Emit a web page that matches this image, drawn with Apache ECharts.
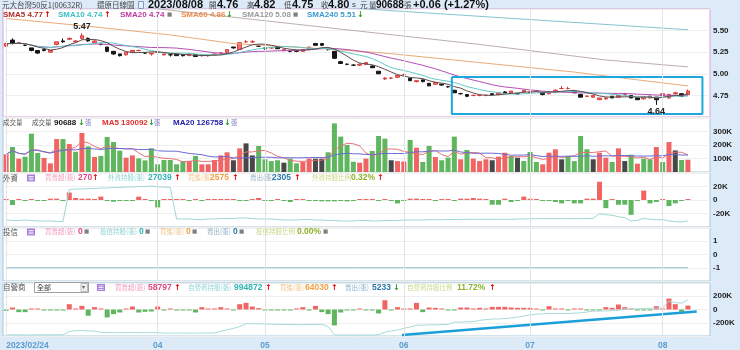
<!DOCTYPE html>
<html><head><meta charset="utf-8">
<script src="https://cdn.jsdelivr.net/npm/echarts@6/dist/echarts.min.js"></script>
<style>html,body{margin:0;padding:0;background:#dcebf7;}#c{width:740px;height:350px;}</style>
</head><body><div id="c"></div>
<script>
// ---------------- DATA ----------------
const dates = ['02/24',
'03/01','03/02','03/03','03/06','03/07','03/08','03/09','03/10','03/13','03/14','03/15','03/16','03/17','03/20','03/21','03/22','03/23','03/24','03/27','03/28','03/29','03/30','03/31',
'04/06','04/07','04/10','04/11','04/12','04/13','04/14','04/17','04/18','04/19','04/20','04/21','04/24','04/25','04/26','04/27','04/28',
'05/02','05/03','05/04','05/05','05/08','05/09','05/10','05/11','05/12','05/15','05/16','05/17','05/18','05/19','05/22','05/23','05/24','05/25','05/26','05/29','05/30','05/31',
'06/01','06/02','06/05','06/06','06/07','06/08','06/09','06/12','06/13','06/14','06/15','06/16','06/19','06/20','06/21','06/26','06/27','06/28','06/29','06/30',
'07/03','07/04','07/05','07/06','07/07','07/10','07/11','07/12','07/13','07/14','07/17','07/18','07/19','07/20','07/21','07/24','07/25','07/26','07/27','07/28','07/31',
'08/01','08/02','08/04','08/07','08/08'];
const emptySlots = ['', ' ', '  '];
const tickIndex = [0, 24, 41, 63, 83, 104];
const tickLabels = ['2023/02/24', '04', '05', '06', '07', '08'];

const opens = [5.32,5.39,5.36,5.33,5.30,5.27,5.28,5.25,5.34,5.38,
5.40,5.37,5.41,5.41,5.36,5.34,5.31,5.26,5.23,5.22,
5.25,5.27,5.24,5.23,5.25,5.22,5.22,5.23,5.22,5.21,
5.22,5.21,5.21,5.22,5.24,5.25,5.31,5.28,5.37,5.37,
5.32,5.30,5.30,5.31,5.27,5.26,5.27,5.26,5.28,5.35,
5.35,5.28,5.26,5.14,5.11,5.10,5.10,5.11,5.09,5.03,
4.94,4.95,4.96,4.99,4.95,4.91,4.93,4.89,4.88,4.88,
4.85,4.81,4.77,4.76,4.75,4.75,4.75,4.77,4.76,4.79,
4.78,4.77,4.79,4.78,4.80,4.78,4.77,4.79,4.83,4.83,
4.80,4.76,4.74,4.73,4.70,4.71,4.74,4.73,4.76,4.75,
4.72,4.71,4.72,4.73,4.75,4.72,4.77,4.77,4.76];
const closes = [5.35,5.35,5.36,5.33,5.27,5.24,5.27,5.27,5.37,5.37,
5.41,5.38,5.44,5.38,5.38,5.34,5.26,5.23,5.21,5.25,
5.27,5.27,5.24,5.24,5.25,5.23,5.22,5.21,5.21,5.23,
5.20,5.21,5.21,5.23,5.24,5.28,5.30,5.36,5.37,5.37,
5.32,5.29,5.30,5.29,5.28,5.26,5.26,5.28,5.31,5.33,
5.33,5.28,5.18,5.12,5.11,5.10,5.11,5.13,5.07,5.00,
4.95,4.95,4.98,4.99,4.92,4.92,4.91,4.86,4.90,4.87,
4.85,4.78,4.77,4.74,4.75,4.75,4.75,4.76,4.78,4.78,
4.80,4.77,4.81,4.79,4.80,4.76,4.79,4.81,4.83,4.83,
4.78,4.73,4.74,4.75,4.72,4.72,4.72,4.75,4.76,4.72,
4.70,4.73,4.74,4.70,4.77,4.76,4.78,4.74,4.80];
const lows = [5.31,5.34,5.35,5.32,5.26,5.23,5.26,5.25,5.33,5.36,
5.39,5.36,5.40,5.37,5.35,5.33,5.25,5.22,5.20,5.21,
5.24,5.26,5.23,5.21,5.24,5.21,5.20,5.21,5.20,5.21,
5.20,5.20,5.20,5.21,5.23,5.24,5.29,5.28,5.36,5.36,
5.31,5.28,5.29,5.29,5.26,5.25,5.25,5.26,5.28,5.33,
5.32,5.27,5.17,5.12,5.10,5.09,5.09,5.10,5.07,5.00,
4.93,4.94,4.95,4.98,4.92,4.90,4.90,4.86,4.87,4.86,
4.84,4.78,4.76,4.73,4.74,4.74,4.74,4.75,4.75,4.77,
4.77,4.76,4.78,4.77,4.79,4.75,4.76,4.79,4.82,4.82,
4.78,4.73,4.73,4.72,4.70,4.70,4.72,4.72,4.75,4.72,
4.70,4.70,4.72,4.64,4.74,4.71,4.76,4.73,4.75];
const highs = [5.36,5.41,5.37,5.34,5.30,5.27,5.29,5.27,5.37,5.41,
5.42,5.39,5.47,5.42,5.39,5.35,5.31,5.26,5.23,5.25,
5.27,5.28,5.25,5.24,5.26,5.23,5.22,5.23,5.22,5.23,
5.22,5.22,5.22,5.23,5.25,5.28,5.31,5.36,5.39,5.39,
5.33,5.30,5.31,5.31,5.28,5.27,5.27,5.28,5.31,5.35,
5.35,5.29,5.26,5.15,5.12,5.11,5.12,5.13,5.10,5.03,
4.96,4.96,4.98,5.00,4.95,4.92,4.93,4.89,4.90,4.88,
4.86,4.81,4.78,4.76,4.76,4.76,4.76,4.77,4.78,4.80,
4.80,4.78,4.81,4.80,4.81,4.78,4.79,4.82,4.86,4.85,
4.80,4.77,4.75,4.75,4.72,4.73,4.74,4.75,4.78,4.75,
4.73,4.73,4.75,4.73,4.77,4.77,4.79,4.77,4.82];

// long moving averages at a few days: [dayIndex, value]
const sma60Pts = [[0,5.64],[13,5.55],[26,5.45],[36,5.35],[48,5.30],[60,5.24],[75,5.13],[90,5.02],[100,4.93],[108,4.86]];
const sma120Pts = [[0,5.95],[39,5.63],[75,5.34],[95,5.16],[108,5.08]];
const sma240Pts = [[0,6.02],[57,5.75],[108,5.51]];

const volumes = [131000,185000,99000,113000,284000,141000,104000,64000,244000,244000,
207000,150000,289000,190000,111000,119000,259000,222000,158000,106000,
123000,101000,86000,175000,57000,89000,89000,57000,80000,81000,
119000,57000,57000,89000,123000,146000,87000,175000,212000,123000,
193000,94000,81000,87000,69000,99000,64000,76000,99000,99000,
99000,146000,360000,262000,200000,76000,69000,99000,156000,267000,
247000,87000,81000,78000,237000,180000,74000,193000,111000,87000,
106000,262000,94000,163000,99000,81000,94000,87000,114000,143000,
119000,106000,81000,148000,74000,57000,143000,168000,94000,114000,
81000,267000,168000,94000,143000,106000,74000,175000,81000,128000,
62000,99000,94000,185000,74000,222000,160000,89000,90688];
const volTone = ('rgrgggrrrg'+'rgrgrggggr'+'rggggggggr'+'grrrrrkrkk'+'ggggkggrrk'+
 'kgggggrrgg'+'gkrrgrggrg'+'ggrgrrrkrr'+'gkgggrrrkg'+'gggkrrgrkg'+'rggrgrkgr').split('');

const foreignNet = [300,-7400,300,-300,300,-300,-500,2000,2000,-300,
11000,3000,2000,2000,300,5000,-300,-2500,-500,-1000,
-500,5000,300,-500,-11000,300,300,300,300,-300,
300,-300,300,300,1500,300,1500,-300,-300,300,
3000,-300,-300,300,-300,-3000,300,1500,-500,-500,
-2000,-2000,-2000,-500,-2000,-300,300,300,300,-300,
300,-300,-5000,-300,2000,2000,300,300,-300,300,
500,-500,2000,2000,3000,2000,1000,-7000,-7000,2000,
-3000,-300,5000,2000,300,-500,-300,-3000,-5000,-300,
-5000,-5000,2000,2000,27000,-12000,500,-7000,-7000,-22000,
-500,14000,-5000,-3000,1500,-9000,-5000,-300,270];
const foreignHold = [27685,27315,27315,27685,27315,26944,26944,26944,26574,26574,
50278,50648,50648,51018,51018,51389,51389,51759,51759,52130,
52130,52500,52500,52870,52130,52130,51759,28426,28426,28426,
28055,28055,28426,28426,28796,28796,28796,29167,29167,28796,
28426,28426,28426,28055,27685,27685,27685,28055,28055,27685,
27685,27315,27315,26944,26944,26944,27315,27315,26944,26944,
27315,27315,27315,27685,27685,27685,27685,27907,27907,27907,
28055,28055,28055,28203,28203,28203,28203,28203,28203,28203,
28203,28426,28426,28648,28648,28648,28648,28648,28648,28648,
28648,28648,28796,28944,32352,31611,31166,30129,29389,26944,
27463,28944,28203,27907,27907,26944,26426,26204,27039];
const trustHold = [0,0,0,0,0,0,0,0,0,0, 0,0,0,0,0,0,0,0,0,0, 0,0,0,0,0,0,0,0,0,0,
0,0,0,0,0,0,0,0,0,0, 0,0,0,0,0,0,0,0,0,0, 0,0,0,0,0,0,0,0,0,0,
0,0,0,0,0,0,0,0,0,0, 0,0,0,0,0,0,0,0,0,0, 0,0,0,0,0,0,0,0,0,0,
0,0,0,0,0,0,0,0,0,0, 0,0,0,0,0,0,0,0,0];
const dealerNet = [-20000,30000,-40000,-40000,15000,3000,-3000,-5000,-5000,-5000,
80000,10000,55000,-95000,35000,3000,-120000,-70000,-45000,5000,
45000,-45000,-35000,-30000,45000,-5000,5000,-5000,-5000,-5000,
-45000,35000,5000,5000,35000,10000,-5000,80000,100000,45000,
20000,-5000,-5000,-5000,-5000,-5000,5000,35000,-5000,55000,
-40000,-70000,-240000,-45000,-5000,-5000,5000,-5000,-5000,-60000,
140000,-5000,35000,5000,5000,100000,-40000,30000,25000,5000,
-5000,-5000,30000,30000,5000,25000,5000,40000,40000,40000,
30000,25000,25000,25000,5000,-5000,50000,5000,5000,-5000,
5000,5000,-5000,-5000,-5000,35000,25000,75000,35000,5000,
-5000,-5000,-5000,50000,5000,165000,80000,-35000,58797];
const dealerHold = [30000,32000,30000,28000,30000,32000,33000,33000,34000,34000,
122500,148600,148600,140000,135000,100000,95000,91000,90000,91000,
95000,92000,90000,91000,92000,78000,78000,80000,80000,78000,
78000,80000,82000,85000,130000,170000,208600,260000,338900,340000,
335000,330000,325000,320000,318000,315000,312000,312000,315000,320700,
320000,260700,33900,26000,26000,27000,26000,26000,27000,40000,
104300,140000,164200,208600,250000,294600,300000,305000,310000,312900,
320000,383200,383200,390000,395000,430000,450000,469300,469300,480000,
500000,520000,550000,581400,600000,610000,617900,617900,620000,620000,
630000,640000,660000,685700,685700,690000,700000,710000,748200,748200,
750000,755000,760000,765000,774300,964600,920300,904700,994872];

// user-drawn annotations (data space: [dayIndex, value])
const boxCorners = [[70.6,4.963],[110.3,4.963],[110.3,4.535],[70.6,4.535],[70.6,4.963]];
const trendLine = [[62.7,-386000],[109.4,-29000]];

// ---------------- BUILD ----------------
const N = dates.length;
const cats = dates.concat(emptySlots);
function movingAverage(vals, n) {
  return vals.map((_, i) => {
    const from = Math.max(0, i - n + 1);
    let s = 0; for (let k = from; k <= i; k++) s += vals[k];
    return +(s / (i - from + 1)).toFixed(4);
  });
}
const ohlc = opens.map((o, i) => [o, closes[i], lows[i], highs[i]]);
let hiIdx = 0, loIdx = 0;
highs.forEach((h, i) => { if (h > highs[hiIdx]) hiIdx = i; });
lows.forEach((l, i) => { if (l < lows[loIdx]) loIdx = i; });

const RED = '#f06464', GREEN = '#5fb65f', DARK = '#474747';
const toneColor = { r: RED, g: GREEN, k: DARK };
const NUMF = '"Liberation Sans",Arial,sans-serif';
const CJKF = '"Noto Sans CJK TC","Noto Sans CJK SC",sans-serif';
const ARRF = '"DejaVu Sans",sans-serif';

const L = 3, R = 30;
const grids = [
  { left: L, right: R, top: 9, height: 108, show: true, backgroundColor: '#fff', borderColor: '#d7a3dc', borderWidth: 1 },
  { left: L, right: R, top: 118, height: 54, show: true, backgroundColor: '#fff', borderColor: '#a9c6d9', borderWidth: 1 },
  { left: L, right: R, top: 173, height: 54, show: true, backgroundColor: '#fff', borderColor: '#a9c6d9', borderWidth: 1 },
  { left: L, right: R, top: 228, height: 53, show: true, backgroundColor: '#fff', borderColor: '#a9c6d9', borderWidth: 1 },
  { left: L, right: R, top: 283, height: 54, show: true, backgroundColor: '#fff', borderColor: '#a9c6d9', borderWidth: 1 }
];
function catAxis(g, bottom) {
  return {
    type: 'category', gridIndex: g, data: cats, boundaryGap: true,
    axisLine: { show: false },
    axisTick: bottom ? { show: true, alignWithLabel: true, length: 4, interval: (i) => tickIndex.includes(i), lineStyle: { color: '#8fb3cc' } } : { show: false },
    axisLabel: bottom ? {
      show: true, interval: (i) => tickIndex.includes(i),
      formatter: (v, i) => tickLabels[tickIndex.indexOf(i)] || '',
      color: '#5d9ccd', fontSize: 8.5, fontWeight: 'bold', fontFamily: NUMF, margin: 5,
      alignMinLabel: 'left'
    } : { show: false },
    splitLine: { show: false }
  };
}
function valAxis(g, min, max, interval, fmt, show) {
  return {
    type: 'value', gridIndex: g, position: 'right', min, max, interval, show: show !== false,
    axisLine: { show: false }, axisTick: { show: false },
    axisLabel: { color: '#222', fontSize: 8, fontWeight: 'bold', fontFamily: NUMF, margin: 3,
      showMinLabel: false, showMaxLabel: false, formatter: fmt },
    splitLine: { show: true, lineStyle: { color: '#efefef' } }
  };
}
const kFmt = (v) => v === 0 ? '0' : (v / 1000) + 'K';
const xAxes = [catAxis(0), catAxis(1), catAxis(2), catAxis(3), catAxis(4, true),
  { type: 'value', gridIndex: 0, min: -0.5, max: cats.length - 0.5, show: false },
  { type: 'value', gridIndex: 4, min: -0.5, max: cats.length - 0.5, show: false }];
const yAxes = [
  valAxis(0, 4.5, 5.75, 0.25, (v) => v.toFixed(2)),
  valAxis(1, 0, 400000, 100000, kFmt),
  valAxis(2, -40000, 40000, 20000, kFmt),
  { type: 'value', gridIndex: 2, min: 22500, max: 62500, show: false, splitLine: { show: false } },
  valAxis(3, -2, 2, 1, (v) => String(v)),
  { type: 'value', gridIndex: 3, min: -1, max: 3, show: false, splitLine: { show: false } },
  valAxis(4, -400000, 400000, 200000, kFmt),
  { type: 'value', gridIndex: 4, min: 0, max: 1460000, show: false, splitLine: { show: false } }
];
const monthLines = { silent: true, symbol: ['none', 'none'], label: { show: false },
  lineStyle: { color: '#e3e3e3', width: 1, type: 'solid' }, data: tickIndex.map((i) => ({ xAxis: i })) };

function line(name, x, y, data, color, width, extra) {
  return Object.assign({ name, type: 'line', xAxisIndex: x, yAxisIndex: y, data, symbol: 'none',
    lineStyle: { color, width: width || 1 }, itemStyle: { color }, silent: true, clip: true }, extra || {});
}
const barColor = (p) => (p.value >= 0 ? RED : GREEN);

const series = [
  { name: 'K', type: 'candlestick', xAxisIndex: 0, yAxisIndex: 0, data: ohlc, barWidth: 4,
    itemStyle: { color: '#f47272', color0: '#151515', borderColor: '#dc3c3c', borderColor0: '#151515', borderWidth: 1 },
    markLine: monthLines,
    markPoint: { symbol: 'circle', symbolSize: 1, itemStyle: { color: 'rgba(0,0,0,0)' },
      label: { show: true, color: '#222', fontSize: 9, fontWeight: 'bold', fontFamily: NUMF, formatter: (p) => p.value },
      data: [
        { coord: [hiIdx, highs[hiIdx]], value: highs[hiIdx].toFixed(2), label: { position: 'top', distance: 2 } },
        { coord: [loIdx, lows[loIdx]], value: lows[loIdx].toFixed(2), label: { position: 'bottom', distance: 2 } }
      ] } },
  line('SMA240', 0, 0, sma240Pts, '#86c3cf', 1),
  line('SMA120', 0, 0, sma120Pts, '#bcaeae', 1),
  line('SMA60', 0, 0, sma60Pts, '#ebaa78', 1),
  line('SMA20', 0, 0, movingAverage(closes, 20), '#b24fb6', 1),
  line('SMA10', 0, 0, movingAverage(closes, 10), '#63c9c9', 1),
  line('SMA5', 0, 0, movingAverage(closes, 5), '#5e4c4c', 1),
  line('box', 5, 0, boxCorners, '#1ea7dc', 2),
  { name: 'vol', type: 'bar', xAxisIndex: 1, yAxisIndex: 1, barWidth: 5, silent: true,
    data: volumes.map((v, i) => ({ value: v, itemStyle: { color: toneColor[volTone[i]] } })), markLine: monthLines },
  line('volMA5', 1, 1, movingAverage(volumes, 5), '#e57373', 1),
  line('volMA20', 1, 1, movingAverage(volumes, 20), '#6a6ad6', 1),
  { name: 'fNet', type: 'bar', xAxisIndex: 2, yAxisIndex: 2, barWidth: 5, barMinHeight: 1, silent: true,
    data: foreignNet, itemStyle: { color: barColor }, markLine: monthLines },
  line('fHold', 2, 3, foreignHold, '#9fd6d6', 1),
  line('tHold', 3, 5, trustHold, '#86bfcf', 1, { markLine: monthLines }),
  { name: 'dNet', type: 'bar', xAxisIndex: 4, yAxisIndex: 6, barWidth: 5, barMinHeight: 1, silent: true,
    data: dealerNet, itemStyle: { color: barColor }, markLine: monthLines },
  line('dHold', 4, 7, dealerHold, '#a6dad6', 1),
  line('trend', 6, 6, trendLine, '#1a9fd8', 2.5)
];

// ---------------- HEADER TEXTS ----------------
const G = [];
function T(x, y, text, fill, size, bold, fam) {
  G.push({ type: 'text', x, y, z: 100, silent: true,
    style: { text, fill, font: (bold ? 'bold ' : '') + size + 'px ' + fam, verticalAlign: 'middle', align: 'left' } });
}
const cj = (x, y, t, c, s) => T(x, y, t, c || '#555', s || 7.5, false, CJKF);
const nb = (x, y, t, c, s) => T(x, y, t, c || '#111', s || 8.5, true, NUMF);
const up = (x, y) => T(x, y, '↑', '#e00000', 8, true, ARRF);
const dn = (x, y) => T(x, y, '↓', '#1a9a1a', 8, true, ARRF);
const eq = (x, y) => T(x, y, '■', '#808080', 5.5, false, ARRF);
function rect(x, y, w, h, fill, stroke) {
  G.push({ type: 'rect', z: 100, silent: true, shape: { x, y, width: w, height: h }, style: { fill, stroke: stroke || null, lineWidth: 1 } });
}
function menuIcon(x, y) {
  rect(x, y, 8, 7, '#a67ddc');
  rect(x + 1.5, y + 1.5, 5, 0.8, '#fff'); rect(x + 1.5, y + 3.2, 5, 0.8, '#fff'); rect(x + 1.5, y + 4.9, 5, 0.8, '#fff');
}
// title row
let y = 5;
cj(2, y, '元大台灣50反1(00632R)', '#444', 7.5);
cj(97, y, '還原日線圖', '#444', 7.5);
rect(138.5, 1.5, 5, 7, '#e8f1fa', '#7a9cc0');
nb(148, y, '2023/08/08', '#111', 11);
cj(209, y, '開', '#444'); nb(217, y, '4.76', '#111', 11);
cj(247, y, '高', '#444'); nb(254, y, '4.82', '#111', 11);
cj(284, y, '低', '#444'); nb(292, y, '4.75', '#111', 11);
cj(321, y, '收', '#444'); nb(328, y, '4.80', '#111', 11);
T(352, y, 's', '#444', 8, false, NUMF); cj(360, y, '元', '#444');
cj(369, y, '量', '#444'); nb(376, y, '90688', '#111', 10); cj(404, y, '張', '#444');
nb(413, y, '+0.06 (+1.27%)', '#111', 11);
// SMA legend
y = 15;
nb(3, y, 'SMA5 4.77', '#b02c2c', 8); up(44, y);
nb(58, y, 'SMA10 4.74', '#3ec1c1', 8); up(104, y);
nb(120, y, 'SMA20 4.74', '#c03aa0', 8); eq(167, y);
nb(181, y, 'SMA60 4.86', '#ea8a4a', 8); dn(226, y);
nb(242, y, 'SMA120 5.08', '#9a9a9a', 8); eq(293, y);
nb(307, y, 'SMA240 5.51', '#3a9ad0', 8); dn(357, y);
// volume header
y = 123;
cj(3, y, '成交量', '#555', 6.5); cj(32, y, '成交量', '#555', 6.5);
nb(54, y, '90688', '#111', 8); dn(78, y); cj(85, y, '張', '#7b7bc9', 6.5);
nb(102, y, 'MA5 130092', '#e03030', 8); dn(148, y); cj(154, y, '張', '#7b7bc9', 6.5);
nb(173, y, 'MA20 126758', '#2222b0', 8); dn(224, y); cj(231, y, '張', '#7b7bc9', 6.5);
// foreign header
y = 178;
cj(3, y, '外資'); menuIcon(27, 174.5);
cj(45, y, '買賣超(張)', '#f19bbb', 6.5); nb(78, y, '270', '#e0467f'); up(92, y);
cj(108, y, '外資持股(張)', '#8fd3d3', 6.5); nb(148, y, '27039', '#2fb5b5'); up(174, y);
cj(188, y, '買進(張)', '#f3c58a', 6.5); nb(210, y, '2575', '#f0a040'); up(232, y);
cj(250, y, '賣出(張)', '#8fb0c8', 6.5); nb(272, y, '2305', '#2a78a8'); up(294, y);
cj(312, y, '外資持股比例', '#c8d88a', 6.5); nb(351, y, '0.32%', '#8cb028'); up(377, y);
// trust header
y = 232;
cj(3, y, '投信'); menuIcon(27, 228.5);
cj(45, y, '買賣超(張)', '#f19bbb', 6.5); nb(78, y, '0', '#e0467f'); eq(84, y);
cj(100, y, '投信持股(張)', '#8fd3d3', 6.5); nb(139, y, '0', '#2fb5b5'); eq(145, y);
cj(160, y, '買進(張)', '#f3c58a', 6.5); nb(186, y, '0', '#f0a040'); eq(192, y);
cj(207, y, '賣出(張)', '#8fb0c8', 6.5); nb(233, y, '0', '#2a78a8'); eq(239, y);
cj(256, y, '投信持股比例', '#c8d88a', 6.5); nb(297, y, '0.00%', '#8cb028'); eq(323, y);
// dealer header
y = 287.5;
cj(3, y, '自營商');
rect(34.5, 282.5, 54, 10, '#fff', '#a0a0a0');
cj(37, y, '全部', '#333', 7);
rect(81, 283.5, 6.5, 8, '#eeeeee', '#bbbbbb');
T(82, y, '▾', '#666', 6, false, ARRF);
menuIcon(97, 284);
cj(115, y, '買賣超(張)', '#f19bbb', 6.5); nb(148, y, '58797', '#e0467f'); up(174, y);
cj(188, y, '自營商持股(張)', '#8fd3d3', 6.5); nb(234, y, '994872', '#2fb5b5'); up(265, y);
cj(280, y, '買進(張)', '#f3c58a', 6.5); nb(305, y, '64030', '#f0a040'); up(331, y);
cj(345, y, '賣出(張)', '#8fb0c8', 6.5); nb(372, y, '5233', '#2a78a8'); dn(393, y);
cj(407, y, '自營商持股比例', '#c8d88a', 6.5); nb(457, y, '11.72%', '#8cb028'); up(489, y);

const chart = echarts.init(document.getElementById('c'), null, { renderer: 'canvas' });
chart.setOption({
  animation: false,
  backgroundColor: '#dcebf7',
  grid: grids,
  xAxis: xAxes,
  yAxis: yAxes,
  series,
  graphic: { elements: G }
});
</script>
</body></html>
